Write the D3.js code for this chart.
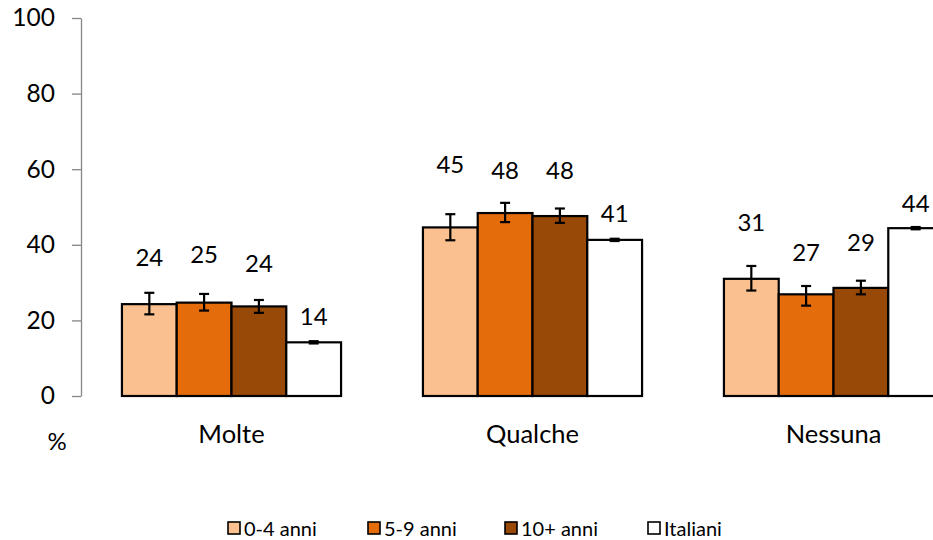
<!DOCTYPE html>
<html>
<head>
<meta charset="utf-8">
<script src="https://cdn.jsdelivr.net/npm/d3@7"></script>
<style>
  html, body { margin: 0; padding: 0; background: #fff; }
  svg { display: block; font-family: Lato, "Open Sans", sans-serif; }
</style>
</head>
<body>
<svg id="chart" width="933" height="540"></svg>
<script>
// ---- data ----
const categories = ["Molte", "Qualche", "Nessuna"];
const seriesNames = ["0-4 anni", "5-9 anni", "10+ anni", "Italiani"];
const seriesColors = ["#FAC090", "#E46C0A", "#984807", "#FFFFFF"];

const values04 = [24.3, 44.6, 31.0];
const values59 = [24.7, 48.4, 26.9];
const values10 = [23.7, 47.6, 28.6];
const valuesIta = [14.2, 41.3, 44.4];

const errLow04 = [21.6, 41.2, 27.9];
const errHigh04 = [27.3, 48.1, 34.4];
const errLow59 = [22.6, 46.0, 23.9];
const errHigh59 = [27.0, 51.1, 29.1];
const errLow10 = [22.0, 45.8, 26.9];
const errHigh10 = [25.4, 49.6, 30.5];
const errLowIta = [13.9, 41.0, 44.1];
const errHighIta = [14.5, 41.6, 44.7];

// value-label anchor heights (in chart units) as placed in the original
const labelAt04 = [36.9, 61.6, 46.1];
const labelAt59 = [37.8, 60.0, 38.2];
const labelAt10 = [35.4, 59.8, 40.8];
const labelAtIta = [21.2, 48.5, 51.1];

const yTicks = [0, 20, 40, 60, 80, 100];

// ---- build table ----
const seriesValues = [values04, values59, values10, valuesIta];
const seriesLow = [errLow04, errLow59, errLow10, errLowIta];
const seriesHigh = [errHigh04, errHigh59, errHigh10, errHighIta];
const seriesLabelAt = [labelAt04, labelAt59, labelAt10, labelAtIta];

const rows = [];
categories.forEach((c, ci) => {
  seriesNames.forEach((s, si) => {
    rows.push({
      cat: c, series: s, si,
      value: seriesValues[si][ci],
      lo: seriesLow[si][ci],
      hi: seriesHigh[si][ci],
      labelAt: seriesLabelAt[si][ci]
    });
  });
});

// ---- layout ----
const svg = d3.select("#chart");
const x0Left = 81, x0Right = 984, yTop = 18, yBottom = 396;

const x0 = d3.scaleBand().domain(categories).range([x0Left, x0Right])
  .paddingInner(0.272).paddingOuter(0.136);
const x1 = d3.scaleBand().domain(seriesNames).range([0, x0.bandwidth()]).padding(0);
const y = d3.scaleLinear().domain([0, 100]).range([yBottom, yTop]);

// y axis
const yAxis = d3.axisLeft(y).tickValues(yTicks).tickSize(9).tickPadding(17).tickSizeOuter(0);
const gy = svg.append("g").attr("transform", `translate(${x0Left},0)`).call(yAxis);
gy.select(".domain").attr("stroke", "#868686").attr("stroke-width", 1.3);
gy.selectAll(".tick line").attr("stroke", "#868686").attr("stroke-width", 1.3);
gy.selectAll(".tick text").attr("fill", "#000").style("font-size", "24.5px")
  .style("font-family", "Lato, 'Open Sans', sans-serif");

// bars
const bars = svg.append("g");
bars.selectAll("rect").data(rows).join("rect")
  .attr("x", d => x0(d.cat) + x1(d.series))
  .attr("width", x1.bandwidth())
  .attr("y", d => y(d.value))
  .attr("height", d => y(0) - y(d.value))
  .attr("fill", d => seriesColors[d.si])
  .attr("stroke", "#000")
  .attr("stroke-width", 2.2);

// error bars
const capW = 10;
const eb = svg.append("g").attr("stroke", "#000").attr("stroke-width", 2.2);
rows.forEach(d => {
  const cx = x0(d.cat) + x1(d.series) + x1.bandwidth() / 2;
  eb.append("line").attr("x1", cx).attr("x2", cx).attr("y1", y(d.lo)).attr("y2", y(d.hi));
  eb.append("line").attr("x1", cx - capW / 2).attr("x2", cx + capW / 2).attr("y1", y(d.lo)).attr("y2", y(d.lo));
  eb.append("line").attr("x1", cx - capW / 2).attr("x2", cx + capW / 2).attr("y1", y(d.hi)).attr("y2", y(d.hi));
});

// value labels
svg.append("g").selectAll("text").data(rows).join("text")
  .attr("x", d => x0(d.cat) + x1(d.series) + x1.bandwidth() / 2)
  .attr("y", d => y(d.labelAt))
  .attr("text-anchor", "middle")
  .attr("dominant-baseline", "central")
  .style("font-size", "24px")
  .attr("fill", "#000")
  .text(d => Math.round(d.value));

// category labels
svg.append("g").selectAll("text").data(categories).join("text")
  .attr("x", d => x0(d) + x0.bandwidth() / 2)
  .attr("y", 433)
  .attr("text-anchor", "middle")
  .attr("dominant-baseline", "central")
  .style("font-size", "25.5px")
  .text(d => d);

// % unit label
svg.append("text").attr("x", 57).attr("y", 440)
  .attr("text-anchor", "middle").attr("dominant-baseline", "central")
  .style("font-size", "24px").text("%");

// legend
const legendX = [227, 367, 504, 647];
const lg = svg.append("g");
seriesNames.forEach((s, i) => {
  const g = lg.append("g").attr("transform", `translate(${legendX[i]},521)`);
  g.append("rect").attr("x", 1).attr("y", 1).attr("width", 12).attr("height", 12)
    .attr("fill", seriesColors[i]).attr("stroke", "#000").attr("stroke-width", 1.6);
  g.append("text").attr("x", 17).attr("y", 7).attr("dominant-baseline", "central")
    .style("font-size", "20px").text(s);
});
</script>
</body>
</html>
